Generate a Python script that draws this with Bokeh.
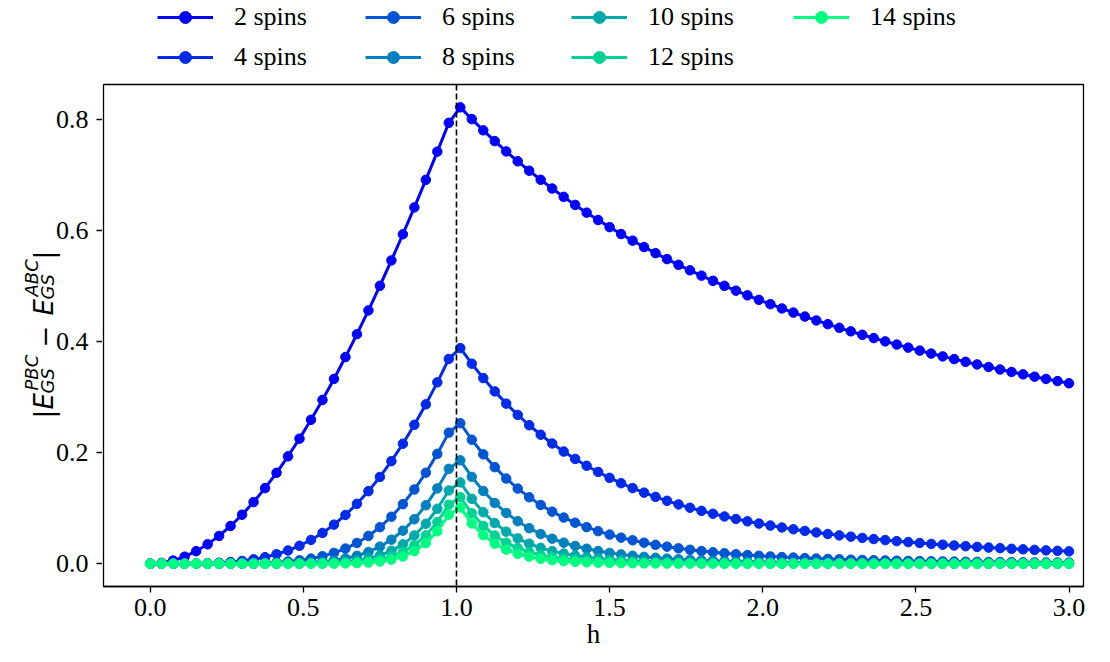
import numpy as np
from bokeh.plotting import figure
from bokeh.layouts import column, row
from bokeh.models import Range1d, Legend, LegendItem, Span, Label, FixedTicker, PrintfTickFormatter
from bokeh.embed import file_html
from bokeh.resources import INLINE

# transverse field h (81 samples between 0 and 3)
h = np.linspace(0, 3, 81)

labels = ["2 spins", "4 spins", "6 spins", "8 spins", "10 spins", "12 spins", "14 spins"]
colors = ["#0000ff", "#002aea", "#0055d4", "#0080bf", "#00aaaa", "#00d495", "#00ff80"]

spins_2 = [0.0, 0.0014, 0.0056, 0.0126, 0.0224, 0.0349, 0.0500, 0.0678, 0.0881, 0.1108,
           0.1360, 0.1635, 0.1932, 0.2250, 0.2589, 0.2947, 0.3324, 0.3718, 0.4130, 0.4557,
           0.5000, 0.5457, 0.5928, 0.6411, 0.6907, 0.7415, 0.7933, 0.8212, 0.8000, 0.7798,
           0.7604, 0.7419, 0.7241, 0.7071, 0.6908, 0.6751, 0.6601, 0.6456, 0.6317, 0.6184,
           0.6056, 0.5932, 0.5813, 0.5698, 0.5588, 0.5481, 0.5378, 0.5279, 0.5183, 0.5090,
           0.5000, 0.4913, 0.4829, 0.4748, 0.4669, 0.4593, 0.4519, 0.4447, 0.4377, 0.4310,
           0.4244, 0.4181, 0.4119, 0.4059, 0.4000, 0.3943, 0.3888, 0.3834, 0.3781, 0.3730,
           0.3681, 0.3632, 0.3585, 0.3539, 0.3494, 0.3450, 0.3407, 0.3365, 0.3324, 0.3285,
           0.3246]

spins_4 = [0.0, 0.0, 0.0, 0.0001, 0.0003, 0.0008, 0.0016, 0.0029, 0.0049, 0.0078,
           0.0117, 0.0170, 0.0237, 0.0322, 0.0427, 0.0553, 0.0702, 0.0876, 0.1077, 0.1305,
           0.1560, 0.1845, 0.2158, 0.2499, 0.2867, 0.3263, 0.3684, 0.3879, 0.3598, 0.3339,
           0.3100, 0.2880, 0.2677, 0.2491, 0.2320, 0.2163, 0.2018, 0.1885, 0.1762, 0.1650,
           0.1545, 0.1448, 0.1360, 0.1278, 0.1202, 0.1131, 0.1066, 0.1006, 0.0950, 0.0898,
           0.0849, 0.0804, 0.0762, 0.0722, 0.0686, 0.0651, 0.0619, 0.0589, 0.0561, 0.0534,
           0.0509, 0.0486, 0.0464, 0.0443, 0.0424, 0.0405, 0.0388, 0.0372, 0.0356, 0.0341,
           0.0327, 0.0314, 0.0302, 0.0290, 0.0279, 0.0268, 0.0258, 0.0248, 0.0239, 0.0231,
           0.0222]

spins_6 = [0.0, 0.0, 0.0, 0.0, 0.0, 0.0, 0.0001, 0.0002, 0.0003, 0.0007,
           0.0013, 0.0023, 0.0038, 0.0060, 0.0091, 0.0135, 0.0194, 0.0272, 0.0373, 0.0499,
           0.0656, 0.0845, 0.1071, 0.1334, 0.1636, 0.1976, 0.2358, 0.2527, 0.2230, 0.1967,
           0.1737, 0.1532, 0.1351, 0.1195, 0.1056, 0.0936, 0.0830, 0.0737, 0.0657, 0.0585,
           0.0523, 0.0468, 0.0420, 0.0377, 0.0339, 0.0306, 0.0276, 0.0250, 0.0226, 0.0206,
           0.0187, 0.0170, 0.0155, 0.0142, 0.0130, 0.0119, 0.0109, 0.0100, 0.0092, 0.0085,
           0.0078, 0.0072, 0.0067, 0.0062, 0.0058, 0.0053, 0.0050, 0.0046, 0.0043, 0.0040,
           0.0037, 0.0035, 0.0032, 0.0030, 0.0028, 0.0027, 0.0025, 0.0023, 0.0022, 0.0021,
           0.0019]

spins_8 = [0.0, 0.0, 0.0, 0.0, 0.0, 0.0, 0.0, 0.0, 0.0, 0.0001,
           0.0002, 0.0003, 0.0006, 0.0012, 0.0021, 0.0036, 0.0059, 0.0093, 0.0142, 0.0211,
           0.0306, 0.0431, 0.0594, 0.0799, 0.1051, 0.1354, 0.1706, 0.1860, 0.1562, 0.1307,
           0.1092, 0.0912, 0.0763, 0.0638, 0.0534, 0.0449, 0.0378, 0.0319, 0.0269, 0.0228,
           0.0194, 0.0166, 0.0142, 0.0122, 0.0105, 0.0090, 0.0078, 0.0068, 0.0059, 0.0052,
           0.0045, 0.0039, 0.0035, 0.0031, 0.0027, 0.0024, 0.0021, 0.0019, 0.0017, 0.0015,
           0.0013, 0.0012, 0.0011, 0.0009, 0.0009, 0.0008, 0.0007, 0.0006, 0.0006, 0.0005,
           0.0005, 0.0004, 0.0004, 0.0003, 0.0003, 0.0003, 0.0003, 0.0002, 0.0002, 0.0002,
           0.0002]

spins_10 = [0.0, 0.0, 0.0, 0.0, 0.0, 0.0, 0.0, 0.0, 0.0, 0.0,
            0.0, 0.0, 0.0001, 0.0003, 0.0005, 0.0010, 0.0019, 0.0033, 0.0057, 0.0094,
            0.0150, 0.0231, 0.0348, 0.0507, 0.0718, 0.0987, 0.1318, 0.1462, 0.1167, 0.0925,
            0.0731, 0.0576, 0.0455, 0.0360, 0.0285, 0.0226, 0.0181, 0.0145, 0.0116, 0.0094,
            0.0076, 0.0062, 0.0051, 0.0041, 0.0034, 0.0028, 0.0023, 0.0019, 0.0016, 0.0014,
            0.0011, 0.0010, 0.0008, 0.0007, 0.0006, 0.0005, 0.0004, 0.0004, 0.0003, 0.0003,
            0.0002, 0.0002, 0.0002, 0.0001, 0.0001, 0.0001, 0.0001, 0.0001, 0.0001, 0.0001,
            0.0001, 0.0, 0.0, 0.0, 0.0, 0.0, 0.0, 0.0, 0.0, 0.0,
            0.0]

spins_12 = [0.0, 0.0, 0.0, 0.0, 0.0, 0.0, 0.0, 0.0, 0.0, 0.0,
            0.0, 0.0, 0.0, 0.0, 0.0001, 0.0003, 0.0006, 0.0013, 0.0024, 0.0043,
            0.0076, 0.0129, 0.0211, 0.0333, 0.0509, 0.0749, 0.1061, 0.1198, 0.0907, 0.0680,
            0.0507, 0.0377, 0.0281, 0.0210, 0.0157, 0.0118, 0.0090, 0.0068, 0.0052, 0.0040,
            0.0031, 0.0024, 0.0019, 0.0015, 0.0012, 0.0009, 0.0007, 0.0006, 0.0005, 0.0004,
            0.0003, 0.0002, 0.0002, 0.0002, 0.0001, 0.0001, 0.0001, 0.0001, 0.0, 0.0,
            0.0, 0.0, 0.0, 0.0, 0.0, 0.0, 0.0, 0.0, 0.0, 0.0,
            0.0, 0.0, 0.0, 0.0, 0.0, 0.0, 0.0, 0.0, 0.0, 0.0,
            0.0]

spins_14 = [0.0, 0.0, 0.0, 0.0, 0.0, 0.0, 0.0, 0.0, 0.0, 0.0,
            0.0, 0.0, 0.0, 0.0, 0.0, 0.0001, 0.0002, 0.0005, 0.0010, 0.0020,
            0.0039, 0.0073, 0.0130, 0.0224, 0.0370, 0.0583, 0.0879, 0.1010, 0.0724, 0.0513,
            0.0360, 0.0252, 0.0177, 0.0125, 0.0088, 0.0063, 0.0045, 0.0033, 0.0024, 0.0017,
            0.0013, 0.0009, 0.0007, 0.0005, 0.0004, 0.0003, 0.0002, 0.0002, 0.0001, 0.0001,
            0.0001, 0.0, 0.0, 0.0, 0.0, 0.0, 0.0, 0.0, 0.0, 0.0,
            0.0, 0.0, 0.0, 0.0, 0.0, 0.0, 0.0, 0.0, 0.0, 0.0,
            0.0, 0.0, 0.0, 0.0, 0.0, 0.0, 0.0, 0.0, 0.0, 0.0,
            0.0]

series = [spins_2, spins_4, spins_6, spins_8, spins_10, spins_12, spins_14]

x_ticks = [0.0, 0.5, 1.0, 1.5, 2.0, 2.5, 3.0]
y_ticks = [0.0, 0.2, 0.4, 0.6, 0.8]
critical_h = 1.0

SERIF = "Liberation Serif"
MATH = "DejaVu Sans"
LINE_W = 3
MARK_SIZE = 9.5
TOP_B, BOT_B = 2, 76
STRIP_W = 102

y_range = Range1d(-0.0411, 0.8623)


def style_axis(ax):
    ax.axis_line_color = "black"
    ax.axis_line_width = 1.3
    ax.major_tick_line_color = "black"
    ax.major_tick_line_width = 1.3
    ax.minor_tick_line_color = None
    ax.major_label_text_font = SERIF
    ax.major_label_text_font_size = "26px"
    ax.major_label_text_color = "black"
    ax.formatter = PrintfTickFormatter(format="%.1f")


# ---------------- main plot ----------------
p = figure(width=1110 - STRIP_W, height=580, output_backend="svg", toolbar_location=None,
           x_range=Range1d(-0.1525, 3.0473), y_range=y_range, y_axis_location=None,
           min_border_left=1, min_border_right=27, min_border_top=TOP_B, min_border_bottom=BOT_B)
p.background_fill_color = "white"
p.border_fill_color = "white"
p.outline_line_color = "black"
p.outline_line_width = 1.3
p.xgrid.visible = False
p.ygrid.visible = False

for vals, col in zip(series, colors):
    p.line(h, vals, line_color=col, line_width=LINE_W)
    p.scatter(h, vals, size=MARK_SIZE, fill_color=col, line_color=col, marker="circle")

p.add_layout(Span(location=critical_h, dimension="height", line_color="black",
                  line_width=1.6, line_dash="6 3"))

xa = p.xaxis[0]
style_axis(xa)
xa.major_tick_out = 6
xa.major_tick_in = 0
xa.ticker = FixedTicker(ticks=x_ticks)
xa.major_label_standoff = 6
xa.axis_label = "h"
xa.axis_label_text_font = SERIF
xa.axis_label_text_font_size = "27px"
xa.axis_label_text_font_style = "normal"
xa.axis_label_text_color = "black"
xa.axis_label_standoff = 0

# ---------------- left strip: y ticks + y-axis label ----------------
strip = figure(width=STRIP_W, height=580, output_backend="svg", toolbar_location=None,
               x_range=Range1d(0, STRIP_W), y_range=y_range, x_axis_location=None,
               min_border_left=0, min_border_right=0, min_border_top=TOP_B, min_border_bottom=BOT_B)
strip.outline_line_color = None
strip.background_fill_color = "white"
strip.border_fill_color = "white"
strip.xgrid.visible = False
strip.ygrid.visible = False

ya = strip.yaxis[0]
style_axis(ya)
ya.fixed_location = STRIP_W - 6
ya.axis_line_color = None
ya.major_tick_out = 0
ya.major_tick_in = 6
ya.ticker = FixedTicker(ticks=y_ticks)
ya.major_label_standoff = 8

# pieces of |E_GS^PBC - E_GS^ABC| : (text, start Y on page, baseline X, size, style)
frame_bottom = 586
base_X, sub_X, sup_X = 43, 47, 31
pieces = [
    ("|", 418, base_X, 26, "normal"),
    ("E", 409, base_X, 26, "italic"),
    ("GS", 393, sub_X, 18, "italic"),
    ("PBC", 390, sup_X, 18, "italic"),
    ("\u2212", 347, base_X, 26, "normal"),
    ("E", 315, base_X, 26, "italic"),
    ("GS", 299, sub_X, 18, "italic"),
    ("ABC", 296, sup_X, 18, "italic"),
    ("|", 259, base_X, 26, "normal"),
]
for txt, Y, X, fs, style in pieces:
    strip.add_layout(Label(x=X, y=frame_bottom - Y, x_units="screen", y_units="screen", text=txt,
                           angle=np.pi / 2, text_font=MATH, text_font_size=f"{fs}px",
                           text_font_style=style, text_color="black",
                           text_align="left", text_baseline="alphabetic"))

# ---------------- legend strip ----------------
# the same series are drawn here outside the visible ranges, only to feed the legend glyphs
leg = figure(width=1110, height=82, output_backend="svg", toolbar_location=None,
             x_range=Range1d(-2, -1), y_range=Range1d(-2, -1),
             x_axis_location=None, y_axis_location=None, min_border=0)
leg.outline_line_color = None
leg.background_fill_color = "white"
leg.border_fill_color = "white"
leg.xgrid.visible = False
leg.ygrid.visible = False

items = []
for vals, lab, col in zip(series, labels, colors):
    lr = leg.line(h, vals, line_color=col, line_width=LINE_W)
    sr = leg.scatter(h, vals, size=MARK_SIZE, fill_color=col, line_color=col, marker="circle")
    items.append(LegendItem(label=lab, renderers=[lr, sr]))

col_x = [157, 365, 571, 793]
for ci, cx in enumerate(col_x):
    col_items = items[2 * ci: 2 * ci + 2]
    nrow = len(col_items)
    vy = 82 - (2 + 30 * nrow + 10 * (nrow - 1))
    lg = Legend(items=col_items, location=(cx, vy), orientation="vertical",
                glyph_width=56, glyph_height=30, label_height=30, label_standoff=21,
                spacing=10, padding=0, margin=0, border_line_color=None,
                background_fill_alpha=0, label_text_font=SERIF,
                label_text_font_size="26px", label_text_color="black")
    leg.add_layout(lg, "center")

layout = column(leg, row(strip, p))
open("out.html", "w").write(file_html(layout, INLINE))
